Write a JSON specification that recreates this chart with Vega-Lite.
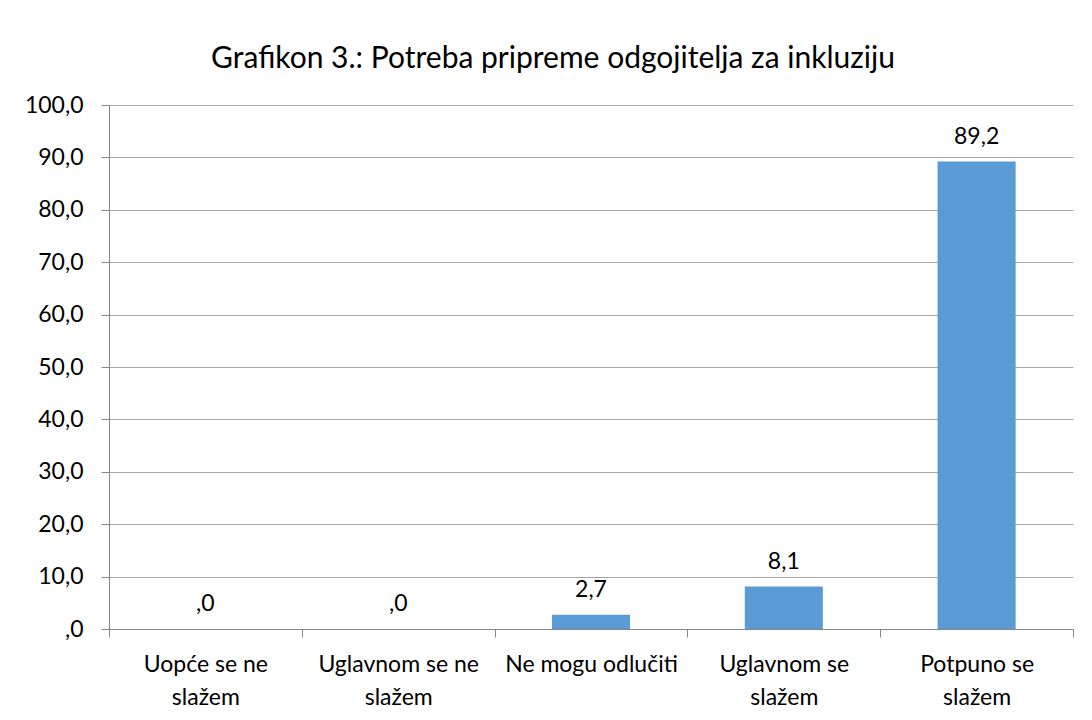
{
  "$schema": "https://vega.github.io/schema/vega-lite/v6.json",
  "width": 964,
  "height": 524,
  "autosize": {"type": "none"},
  "padding": {"left": 109, "top": 105, "right": 19, "bottom": 91},
  "background": "white",
  "title": {
    "text": "Grafikon 3.: Potreba pripreme odgojitelja za inkluziju",
    "font": "Lato",
    "fontSize": 30,
    "fontWeight": "normal",
    "color": "#000000",
    "anchor": "middle",
    "frame": "group",
    "dx": -38,
    "offset": 20
  },
  "data": {
    "values": [
      {"kategorija": "Uopće se ne slažem", "postotak": 0.0, "oznaka": ",0"},
      {"kategorija": "Uglavnom se ne slažem", "postotak": 0.0, "oznaka": ",0"},
      {"kategorija": "Ne mogu odlučiti", "postotak": 2.7, "oznaka": "2,7"},
      {"kategorija": "Uglavnom se slažem", "postotak": 8.1, "oznaka": "8,1"},
      {"kategorija": "Potpuno se slažem", "postotak": 89.2, "oznaka": "89,2"}
    ]
  },
  "layer": [
    {
      "mark": {"type": "bar", "color": "#5B9BD5", "width": {"band": 0.405}},
      "encoding": {
        "x": {
          "field": "kategorija",
          "type": "nominal",
          "sort": null,
          "scale": {"paddingInner": 0, "paddingOuter": 0},
          "axis": {
            "title": null,
            "labelAngle": 0,
            "tickBand": "extent",
            "grid": false,
            "domainColor": "#868686",
            "tickColor": "#868686",
            "tickSize": 8,
            "labelFont": "Lato",
            "labelFontSize": 23,
            "labelColor": "#000000",
            "labelPadding": 16,
            "labelLineHeight": 33,
            "labelBaseline": "top",
            "labelLimit": 400,
            "labelOverlap": false,
            "labelExpr": "datum.value == 'Uopće se ne slažem' ? ['Uopće se ne', 'slažem'] : datum.value == 'Uglavnom se ne slažem' ? ['Uglavnom se ne', 'slažem'] : datum.value == 'Uglavnom se slažem' ? ['Uglavnom se', 'slažem'] : datum.value == 'Potpuno se slažem' ? ['Potpuno se', 'slažem'] : datum.value"
          }
        },
        "y": {
          "field": "postotak",
          "type": "quantitative",
          "scale": {"domain": [0, 100], "nice": false},
          "axis": {
            "title": null,
            "values": [0, 10, 20, 30, 40, 50, 60, 70, 80, 90, 100],
            "grid": true,
            "gridColor": "#A6A6A6",
            "domainColor": "#868686",
            "tickColor": "#868686",
            "tickSize": 8,
            "labelPadding": 18,
            "labelFont": "Lato",
            "labelFontSize": 23,
            "labelColor": "#000000",
            "labelExpr": "datum.value == 0 ? ',0' : replace(format(datum.value, '.1f'), '.', ',')"
          }
        }
      }
    },
    {
      "mark": {"type": "text", "font": "Lato", "fontSize": 23, "color": "#000000", "baseline": "alphabetic", "dy": -18},
      "encoding": {
        "x": {"field": "kategorija", "type": "nominal", "sort": null},
        "y": {"field": "postotak", "type": "quantitative"},
        "text": {"field": "oznaka"}
      }
    }
  ],
  "config": {"view": {"stroke": null}}
}
